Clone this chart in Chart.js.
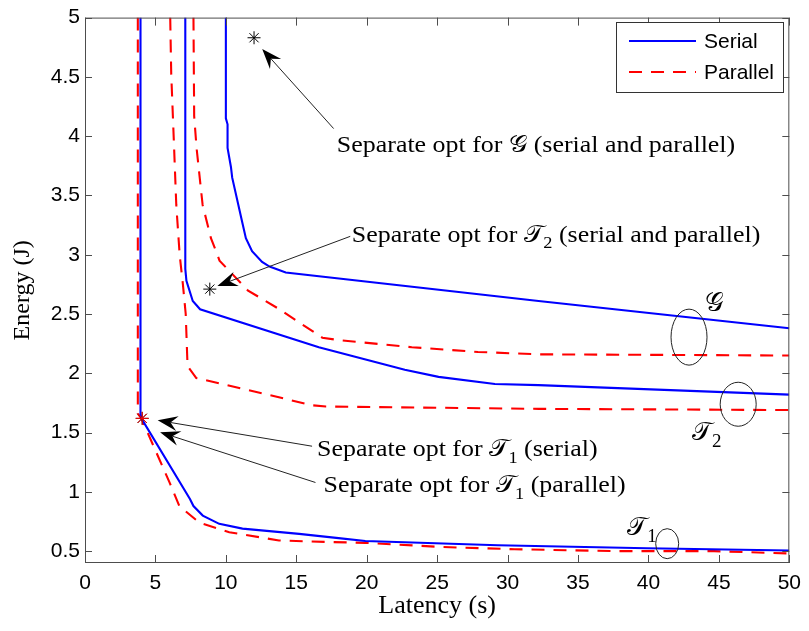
<!DOCTYPE html>
<html>
<head>
<meta charset="utf-8">
<script src="https://cdn.jsdelivr.net/npm/chart.js@4.4.1/dist/chart.umd.min.js"></script>
<style>
html, body { margin: 0; padding: 0; background: #fff; }
#wrap { width: 809px; height: 631px; }
</style>
</head>
<body>
<div id="wrap"><canvas id="chart" width="809" height="631"></canvas></div>
<script>
// ===== data =====
const xTicks = [0, 5, 10, 15, 20, 25, 30, 35, 40, 45, 50];
const yTicks = [0.5, 1, 1.5, 2, 2.5, 3, 3.5, 4, 4.5, 5];

// T1 (serial / parallel)
const t1SerialX = [3.94, 3.94, 4.0, 7.45, 7.7, 8.36, 9.53, 11.18, 15.2, 18.0, 19.9, 29.3, 39.9, 50];
const t1SerialY = [5.0, 1.66, 1.62, 0.94, 0.88, 0.80, 0.73, 0.69, 0.646, 0.61, 0.585, 0.55, 0.525, 0.505];
const t1ParallelX = [3.75, 3.75, 4.0, 6.0, 6.7, 8.12, 10.24, 13.77, 17.3, 19.9, 25.3, 30.5, 37.6, 44.65, 50];
const t1ParallelY = [5.0, 1.66, 1.62, 1.08, 0.88, 0.74, 0.66, 0.59, 0.577, 0.57, 0.535, 0.516, 0.50, 0.50, 0.48];

// T2
const t2SerialX = [7.12, 7.12, 7.2, 7.65, 8.17, 16.6, 22.7, 25.1, 29.1, 32.2, 50];
const t2SerialY = [5.0, 2.88, 2.78, 2.61, 2.54, 2.22, 2.03, 1.97, 1.91, 1.90, 1.82];
const t2ParallelX = [6.05, 6.12, 6.3, 6.48, 6.72, 6.95, 7.15, 7.28, 7.9, 12.6, 16.15, 17.1, 32.2, 50];
const t2ParallelY = [5.0, 4.53, 3.98, 3.42, 3.0, 2.75, 2.5, 2.06, 1.96, 1.83, 1.73, 1.72, 1.70, 1.69];

// G
const gSerialX = [10.0, 10.0, 10.12, 10.12, 10.36, 10.45, 11.15, 11.42, 11.86, 12.57, 13.1, 14.25, 32.2, 50];
const gSerialY = [5.0, 4.15, 4.1, 3.9, 3.74, 3.65, 3.28, 3.14, 3.03, 2.94, 2.9, 2.85, 2.61, 2.38];
const gParallelX = [7.7, 7.75, 7.92, 8.35, 8.94, 9.4, 9.55, 11.55, 13.8, 16.85, 18.0, 23.2, 27.9, 32.2, 50];
const gParallelY = [5.0, 4.17, 3.9, 3.42, 3.14, 3.0, 2.95, 2.70, 2.54, 2.30, 2.28, 2.22, 2.18, 2.16, 2.15];

// separate-optimisation points (G, T2, T1)
const optX = [12.0, 8.86, 4.06];
const optY = [4.83, 2.71, 1.62];
const optParallelX = [4.06];
const optParallelY = [1.62];

// ===== styles =====
const BLUE = '#0000ff';
const RED = '#ff0000';
const DASH = [13, 9];
const SERIF = "'Liberation Serif', 'Times New Roman', serif";
const SANS = "'Liberation Sans', Arial, sans-serif";
const SCRIPT = "'DejaVu Serif', 'DejaVu Sans', serif";

const toPoints = (xs, ys) => xs.map((x, i) => ({ x: x, y: ys[i] }));

function lineSet(label, xs, ys, color, dash) {
    return {
        label: label,
        data: toPoints(xs, ys),
        showLine: true,
        borderColor: color,
        backgroundColor: color,
        borderWidth: 2.1,
        borderDash: dash,
        pointRadius: 0,
        tension: 0,
        fill: false
    };
}

function starSet(label, xs, ys, color) {
    return {
        label: label,
        data: toPoints(xs, ys),
        showLine: false,
        pointStyle: 'star',
        pointRadius: 6.5,
        borderWidth: 1,
        borderColor: color,
        backgroundColor: color
    };
}

// annotation layout in data units
const notes = [
    { x: 17.88, y: 3.87, parts: [['Separate opt for '], ['𝒢', 'script'], [' (serial and parallel)']],
      arrow: [17.65, 4.064, 12.58, 4.735] },
    { x: 18.94, y: 3.11, parts: [['Separate opt for '], ['𝒯', 'script'], ['2', 'sub'], [' (serial and parallel)']],
      arrow: [18.83, 3.155, 9.40, 2.737] },
    { x: 16.47, y: 1.30, parts: [['Separate opt for '], ['𝒯', 'script'], ['1', 'sub'], [' (serial)']],
      arrow: [16.12, 1.385, 5.16, 1.603] },
    { x: 16.94, y: 0.995, parts: [['Separate opt for '], ['𝒯', 'script'], ['1', 'sub'], [' (parallel)']],
      arrow: [16.36, 1.079, 5.33, 1.503] }
];
const rings = [
    { x: 42.88, y: 2.305, rx: 18, ry: 28, label: [['𝒢', 'script']], lx: 44.0, ly: 2.525 },
    { x: 46.37, y: 1.739, rx: 18, ry: 22, label: [['𝒯', 'script'], ['2', 'sub']], lx: 43.1, ly: 1.438 },
    { x: 41.33, y: 0.563, rx: 11.5, ry: 15, label: [['𝒯', 'script'], ['1', 'sub']], lx: 38.5, ly: 0.635 }
];

function drawRich(ctx, x, y, parts, size, stretch) {
    ctx.save();
    ctx.translate(x, y);
    ctx.scale(stretch, 1);
    ctx.textBaseline = 'alphabetic';
    ctx.textAlign = 'left';
    ctx.fillStyle = '#000';
    let cx = 0;
    parts.forEach(p => {
        let dy = 0;
        if (p[1] === 'script') {
            ctx.font = size + 'px ' + SCRIPT;
        } else if (p[1] === 'sub') {
            ctx.font = Math.round(size * 0.72) + 'px ' + SERIF;
            dy = size * 0.28;
        } else {
            ctx.font = size + 'px ' + SERIF;
        }
        ctx.fillText(p[0], cx, dy);
        cx += ctx.measureText(p[0]).width;
    });
    ctx.restore();
}

function drawArrow(ctx, x1, y1, x2, y2) {
    const dx = x2 - x1, dy = y2 - y1;
    const len = Math.hypot(dx, dy);
    const ux = dx / len, uy = dy / len;
    const nx = -uy, ny = ux;
    const L = 20, W = 7.5, notch = 7;
    ctx.save();
    ctx.strokeStyle = '#222';
    ctx.lineWidth = 1;
    ctx.beginPath();
    ctx.moveTo(x1, y1);
    ctx.lineTo(x2 - ux * (L - notch), y2 - uy * (L - notch));
    ctx.stroke();
    ctx.fillStyle = '#000';
    ctx.beginPath();
    ctx.moveTo(x2, y2);
    ctx.lineTo(x2 - ux * L + nx * W, y2 - uy * L + ny * W);
    ctx.lineTo(x2 - ux * (L - notch), y2 - uy * (L - notch));
    ctx.lineTo(x2 - ux * L - nx * W, y2 - uy * L - ny * W);
    ctx.closePath();
    ctx.fill();
    ctx.restore();
}

const decorations = {
    id: 'decorations',
    afterDraw(chart) {
        const ctx = chart.ctx;
        const a = chart.chartArea;
        const xs = chart.scales.x, ys = chart.scales.y;
        const px = v => xs.getPixelForValue(v);
        const py = v => ys.getPixelForValue(v);

        // frame and inward ticks on all four sides
        ctx.save();
        ctx.strokeStyle = '#4d4d4d';
        ctx.lineWidth = 1;
        ctx.strokeRect(a.left + 0.5, a.top + 0.5, a.right - a.left - 1, a.bottom - a.top - 1);
        ctx.beginPath();
        xs.ticks.forEach(t => {
            const x = Math.round(px(t.value)) + 0.5;
            ctx.moveTo(x, a.bottom); ctx.lineTo(x, a.bottom - 8);
            ctx.moveTo(x, a.top); ctx.lineTo(x, a.top + 8);
        });
        ys.ticks.forEach(t => {
            const y = Math.round(py(t.value)) + 0.5;
            ctx.moveTo(a.left, y); ctx.lineTo(a.left + 7, y);
            ctx.moveTo(a.right, y); ctx.lineTo(a.right - 7, y);
        });
        ctx.stroke();
        ctx.restore();

        // arrows and notes
        notes.forEach(n => {
            drawArrow(ctx, px(n.arrow[0]), py(n.arrow[1]), px(n.arrow[2]), py(n.arrow[3]));
            drawRich(ctx, px(n.x), py(n.y), n.parts, 24, 1.08);
        });

        // rings marking each curve family
        rings.forEach(r => {
            ctx.save();
            ctx.strokeStyle = '#222';
            ctx.lineWidth = 1;
            ctx.beginPath();
            ctx.ellipse(px(r.x), py(r.y), r.rx, r.ry, 0, 0, Math.PI * 2);
            ctx.stroke();
            ctx.restore();
            drawRich(ctx, px(r.lx), py(r.ly), r.label, 26, 1.0);
        });

        // legend box
        ctx.save();
        const bx = 616, by = 22, bw = 167, bh = 70;
        ctx.fillStyle = '#fff';
        ctx.fillRect(bx, by, bw, bh);
        ctx.strokeStyle = '#333';
        ctx.lineWidth = 1;
        ctx.strokeRect(bx + 0.5, by + 0.5, bw, bh);
        const items = [
            { text: chart.data.datasets[2].label, color: BLUE, dash: [], y: by + 19 },
            { text: chart.data.datasets[3].label, color: RED, dash: DASH, y: by + 50 }
        ];
        items.forEach(it => {
            ctx.strokeStyle = it.color;
            ctx.lineWidth = 2.1;
            ctx.setLineDash(it.dash);
            ctx.beginPath();
            ctx.moveTo(bx + 13, it.y);
            ctx.lineTo(bx + 80, it.y);
            ctx.stroke();
            ctx.setLineDash([]);
            ctx.fillStyle = '#000';
            ctx.font = '21px ' + SANS;
            ctx.textBaseline = 'middle';
            ctx.fillText(it.text, bx + 88, it.y + 1);
        });
        ctx.restore();
    }
};

const ctx = document.getElementById('chart').getContext('2d');
new Chart(ctx, {
    type: 'scatter',
    data: {
        datasets: [
            starSet('parallel opt', optParallelX, optParallelY, RED),
            starSet('serial opt', optX, optY, '#000'),
            lineSet('Serial', t1SerialX, t1SerialY, BLUE, []),
            lineSet('Parallel', t1ParallelX, t1ParallelY, RED, DASH),
            lineSet('Serial T2', t2SerialX, t2SerialY, BLUE, []),
            lineSet('Parallel T2', t2ParallelX, t2ParallelY, RED, DASH),
            lineSet('Serial G', gSerialX, gSerialY, BLUE, []),
            lineSet('Parallel G', gParallelX, gParallelY, RED, DASH)
        ]
    },
    options: {
        responsive: false,
        animation: false,
        devicePixelRatio: 1,
        layout: { padding: { left: 0, right: 16, top: 11, bottom: 0 } },
        plugins: {
            legend: { display: false },
            tooltip: { enabled: false }
        },
        scales: {
            x: {
                type: 'linear',
                min: 0,
                max: 50,
                afterBuildTicks: s => { s.ticks = xTicks.map(v => ({ value: v })); },
                afterFit: s => { s.height = 68; },
                grid: { display: false, drawTicks: false },
                border: { display: false },
                ticks: {
                    font: { family: SANS, size: 21 },
                    color: '#000',
                    padding: 8,
                    maxRotation: 0,
                    autoSkip: false,
                    callback: v => String(v)
                },
                title: {
                    display: true,
                    text: 'Latency (s)',
                    font: { family: SERIF, size: 26 },
                    color: '#000',
                    padding: { top: 0, bottom: 9 }
                }
            },
            y: {
                type: 'linear',
                min: 0.4,
                max: 5,
                afterBuildTicks: s => { s.ticks = yTicks.map(v => ({ value: v })); },
                afterFit: s => { s.width = 85; },
                grid: { display: false, drawTicks: false },
                border: { display: false },
                ticks: {
                    font: { family: SANS, size: 21 },
                    color: '#000',
                    padding: 5,
                    autoSkip: false,
                    callback: v => String(v)
                },
                title: {
                    display: true,
                    text: 'Energy (J)',
                    font: { family: SERIF, size: 24 },
                    color: '#000',
                    padding: { top: 8, bottom: 0 }
                }
            }
        }
    },
    plugins: [decorations]
});
</script>
</body>
</html>
